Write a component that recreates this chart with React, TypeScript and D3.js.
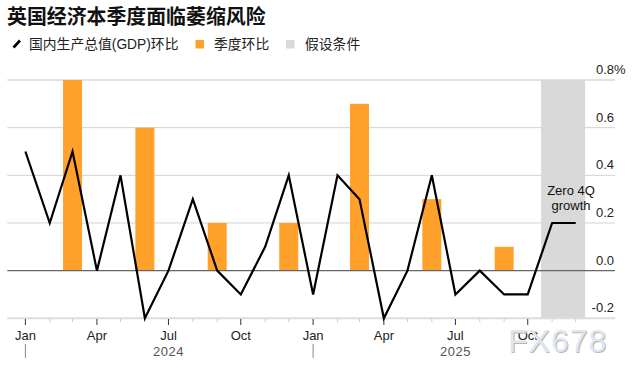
import * as d3 from "d3";

// monthly GDP, Jan 2024 .. Dec 2025 (last two are the "zero 4Q growth" assumption)
const months = [
  "2024-01", "2024-02", "2024-03", "2024-04", "2024-05", "2024-06",
  "2024-07", "2024-08", "2024-09", "2024-10", "2024-11", "2024-12",
  "2025-01", "2025-02", "2025-03", "2025-04", "2025-05", "2025-06",
  "2025-07", "2025-08", "2025-09", "2025-10", "2025-11", "2025-12",
];
const gdpMoM = [
  0.5, 0.2, 0.5, 0.0, 0.4, -0.2, 0.0, 0.3, 0.0, -0.1, 0.1, 0.4,
  -0.1, 0.4, 0.3, -0.2, 0.0, 0.4, -0.1, 0.0, -0.1, -0.1, 0.2, 0.2,
];
const quarters = ["2024-03", "2024-06", "2024-09", "2024-12", "2025-03", "2025-06", "2025-09"];
const qoq = [0.8, 0.6, 0.2, 0.2, 0.7, 0.3, 0.1];
const yTicks = [-0.2, 0, 0.2, 0.4, 0.6, 0.8];
const assumption = ["2025-10-18", "2025-12-13"];
const years = ["2024", "2025"];

const W = 636;
const H = 375;
const parse = (s: string) => (s.length === 7 ? d3.timeParse("%Y-%m")(s)! : d3.timeParse("%Y-%m-%d")(s)!);

const x = d3.scaleTime().domain([new Date(2023, 11, 9), new Date(2026, 0, 20)]).range([7.3, 615]);
const y = d3.scaleLinear().domain([-0.2, 0.8]).range([318.3, 80]);

const latin = "'Liberation Sans', Arial, 'Noto Sans CJK SC', sans-serif";
const cjk = "'Liberation Sans', 'Noto Sans CJK SC', sans-serif";
const orange = "#ffa12b";

export default function App() {
  const line = d3
    .line<number>()
    .x((_, i) => x(parse(months[i])))
    .y((d) => y(d));
  const barW = 19;
  const ticks = x.ticks(d3.timeMonth.every(1)!).filter((d) => d >= new Date(2024, 0, 1) && d <= new Date(2025, 11, 1));
  const fmt = d3.timeFormat("%b");

  return (
    <svg width={W} height={H} style={{ position: "absolute", left: 0, top: 0 }}>
      <rect width={W} height={H} fill="#fff" />
      {/* title + legend */}
      <text x={7} y={24} fontFamily={cjk} fontWeight="bold" fontSize={19.9} fill="#111">
        英国经济本季度面临萎缩风险
      </text>
      <line x1={13.5} y1={47.5} x2={20} y2={40.5} stroke="#000" strokeWidth={2.6} />
      <text x={29} y={49} fontFamily={cjk} fontSize={13.8} fill="#222">国内生产总值(GDP)环比</text>
      <rect x={195.5} y={40} width={8.5} height={8.5} fill={orange} />
      <text x={214} y={49} fontFamily={cjk} fontSize={13.8} fill="#222">季度环比</text>
      <rect x={286} y={40} width={8.5} height={8.5} fill="#d9d9d9" />
      <text x={305} y={49} fontFamily={cjk} fontSize={13.8} fill="#222">假设条件</text>

      {/* gridlines */}
      {yTicks.filter((t) => t !== 0 && t !== -0.2).map((t) => (
        <line key={t} x1={7.3} x2={615} y1={y(t)} y2={y(t)} stroke={t === 0.8 ? "#e2e2e2" : "#d2d2d2"} strokeWidth={t === 0.8 ? 2 : 1} />
      ))}
      {/* assumption band */}
      <rect
        x={x(parse(assumption[0]))}
        width={x(parse(assumption[1])) - x(parse(assumption[0]))}
        y={y(0.8)}
        height={y(-0.2) - y(0.8)}
        fill="#d9d9d9"
      />
      {/* bars */}
      {qoq.map((v, i) => (
        <rect
          key={quarters[i]}
          x={x(parse(quarters[i])) - barW / 2}
          y={y(v)}
          width={barW}
          height={y(0) - y(v)}
          fill={orange}
        />
      ))}
      <line x1={7.3} x2={615} y1={y(0)} y2={y(0)} stroke="#666" strokeWidth={1.2} />
      <line x1={7.3} x2={615} y1={y(-0.2)} y2={y(-0.2)} stroke="#dcdcdc" strokeWidth={2} />

      {/* y labels */}
      {yTicks.map((t) => (
        <g key={t} fontFamily={latin} fontSize={13} fill="#222">
          <text x={614} y={y(t) - 6} textAnchor="end">{t.toFixed(1)}</text>
          {t === 0.8 && <text x={614} y={y(t) - 6}>%</text>}
        </g>
      ))}

      {/* x ticks */}
      {ticks.map((d) => {
        const major = d.getMonth() % 3 === 0;
        return (
          <g key={+d} transform={`translate(${x(d)},0)`}>
            <line y1={319} y2={major ? 325 : 322} stroke={major ? "#333" : "#ccc"} strokeWidth={1} />
            {major && (
              <text y={339.5} textAnchor="middle" fontFamily={latin} fontSize={13} fill="#222">
                {fmt(d)}
              </text>
            )}
          </g>
        );
      })}
      {years.map((yr) => (
        <g key={yr} fontFamily={latin} fontSize={13} fill="#555">
          <line x1={x(new Date(+yr, 0, 1))} x2={x(new Date(+yr, 0, 1))} y1={344} y2={358} stroke="#888" strokeWidth={1} />
          <text x={x(new Date(+yr, 6, 1))} y={356} textAnchor="middle" letterSpacing={0.5}>{yr}</text>
        </g>
      ))}

      {/* GDP line */}
      <path d={line(gdpMoM) ?? ""} fill="none" stroke="#000" strokeWidth={2.2} strokeLinejoin="miter" />

      {/* annotation */}
      <text x={571} y={195} textAnchor="middle" fontFamily={latin} fontSize={13} fill="#111">Zero 4Q</text>
      <text x={571} y={209.5} textAnchor="middle" fontFamily={latin} fontSize={13} fill="#111">growth</text>

      {/* watermark */}
      <text x={509} y={352.5} fontFamily={latin} fontSize={32} fill="#c7b59b" letterSpacing={1}>FX678</text>
      <text x={508} y={351.5} fontFamily={latin} fontSize={32} fill="#dbe7f7" letterSpacing={1}>FX678</text>
    </svg>
  );
}
